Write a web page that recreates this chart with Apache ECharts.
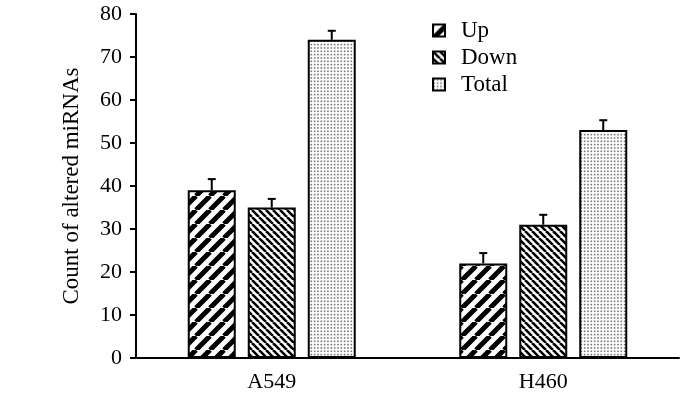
<!DOCTYPE html>
<html>
<head>
<meta charset="utf-8">
<script src="https://cdn.jsdelivr.net/npm/echarts@6/dist/echarts.min.js"></script>
<style>
  html, body { margin: 0; padding: 0; background: #fff; }
  #chart { width: 700px; height: 399px; }
</style>
</head>
<body>
<div id="chart"></div>
<script>
// data
var categories = ["A549", "H460"];
var seriesNames = ["Up", "Down", "Total"];
var upValues = [39, 22];
var downValues = [35, 31];
var totalValues = [74, 53];
var upErr = [2.6, 2.4];
var downErr = [2, 2.3];
var totalErr = [2.1, 2.3];

var BAR_W = 48;   // bar width in px
var BAR_GAP = 12; // gap between bars in a group, px
var FONT = "'Liberation Serif', 'DejaVu Serif', serif";

// fill patterns
function stripes(p, w, dir) {
  var c = document.createElement("canvas");
  c.width = p; c.height = p;
  var ctx = c.getContext("2d");
  ctx.fillStyle = "#fff";
  ctx.fillRect(0, 0, p, p);
  ctx.strokeStyle = "#000";
  ctx.lineWidth = w;
  ctx.beginPath();
  [-p, 0, p].forEach(function (o) {
    if (dir === "/") { ctx.moveTo(o, p); ctx.lineTo(o + p, 0); }
    else { ctx.moveTo(o, 0); ctx.lineTo(o + p, p); }
  });
  ctx.stroke();
  return { image: c, repeat: "repeat" };
}
function dots(p, n, s, col) {
  var c = document.createElement("canvas");
  c.width = p; c.height = p;
  var ctx = c.getContext("2d");
  ctx.fillStyle = "#fff";
  ctx.fillRect(0, 0, p, p);
  ctx.fillStyle = col;
  var step = p / n;
  for (var i = 0; i < n; i++) {
    for (var j = 0; j < n; j++) ctx.fillRect(i * step + 0.5, j * step + 0.5, s, s);
  }
  return { image: c, repeat: "repeat" };
}

var fills = [stripes(14, 5, "/"), stripes(7, 2.6, "\\"), dots(10, 3, 1.6, "#777")];
var values = [upValues, downValues, totalValues];
var errs = [upErr, downErr, totalErr];

// rows for the error bars: [category index, mean, err, series index]
var errRows = [];
values.forEach(function (vals, s) {
  vals.forEach(function (v, i) { errRows.push([i, v, errs[s][i], s]); });
});

var chart = echarts.init(document.getElementById("chart"));

var barSeries = seriesNames.map(function (name, s) {
  return {
    name: name,
    type: "bar",
    barWidth: BAR_W,
    barGap: (BAR_GAP / BAR_W * 100) + "%",
    itemStyle: { color: fills[s], borderColor: "#000", borderWidth: 2 },
    emphasis: { disabled: true },
    data: values[s],
    z: 2
  };
});

chart.setOption({
  backgroundColor: "#fff",
  animation: false,
  grid: { left: 136, right: 21, top: 14, bottom: 41 },
  legend: {
    orient: "vertical",
    left: 432,
    top: 19,
    padding: 0,
    icon: "rect",
    itemWidth: 12,
    itemHeight: 12,
    itemGap: 4,
    data: seriesNames,
    textStyle: { fontFamily: FONT, fontSize: 23, color: "#000", padding: [0, 0, 0, 11] }
  },
  xAxis: {
    type: "category",
    data: categories,
    axisTick: { show: false },
    axisLine: { lineStyle: { color: "#000", width: 2 } },
    axisLabel: { fontFamily: FONT, fontSize: 22, color: "#000", margin: 13 }
  },
  yAxis: {
    type: "value",
    min: 0,
    max: 80,
    interval: 10,
    name: "Count of altered miRNAs",
    nameLocation: "middle",
    nameGap: 53,
    nameTextStyle: { fontFamily: FONT, fontSize: 23, color: "#000" },
    splitLine: { show: false },
    axisLine: { show: true, lineStyle: { color: "#000", width: 2 } },
    axisTick: { show: true, length: 6, lineStyle: { color: "#000", width: 2 } },
    axisLabel: { fontFamily: FONT, fontSize: 22, color: "#000", margin: 14 }
  },
  series: barSeries.concat([{
    type: "custom",
    z: 3,
    silent: true,
    data: errRows,
    renderItem: function (params, api) {
      var cat = api.value(0), v = api.value(1), e = api.value(2), s = api.value(3);
      var off = (s - 1) * (BAR_W + BAR_GAP);
      var base = api.coord([cat, v]);
      var top = api.coord([cat, v + e]);
      var x = base[0] + off;
      var style = { stroke: "#000", lineWidth: 2 };
      return {
        type: "group",
        children: [
          { type: "line", shape: { x1: x, y1: base[1], x2: x, y2: top[1] }, style: style },
          { type: "line", shape: { x1: x - 4, y1: top[1], x2: x + 4, y2: top[1] }, style: style }
        ]
      };
    }
  }])
});
</script>
</body>
</html>
